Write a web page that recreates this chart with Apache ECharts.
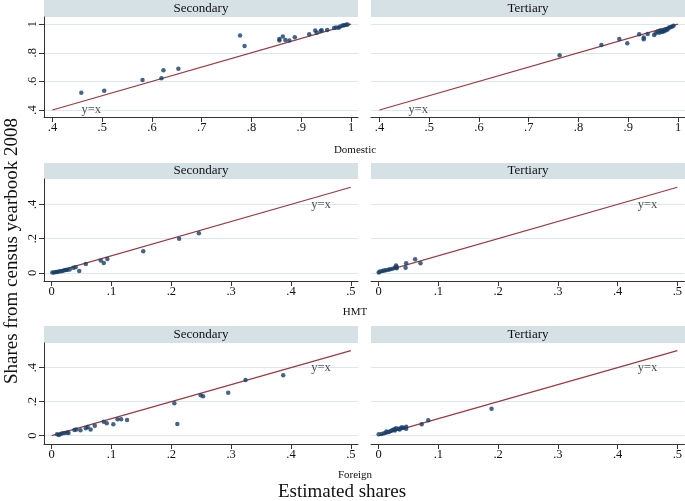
<!DOCTYPE html>
<html>
<head>
<meta charset="utf-8">
<script src="https://cdn.jsdelivr.net/npm/echarts@6/dist/echarts.min.js"></script>
<style>
html,body{margin:0;padding:0;background:#fff;}
#c{width:685px;height:501px;}
</style>
</head>
<body>
<div id="c"></div>
<script>
// ---- data ----
const rowLabels = ['Domestic', 'HMT', 'Foreign'];
const colLabels = ['Secondary', 'Tertiary'];

const domesticSecondary = [[0.458,0.521],[0.504,0.535],[0.581,0.61],[0.619,0.622],[0.623,0.678],[0.653,0.689],[0.777,0.92],[0.786,0.848],[0.856,0.896],[0.856,0.885],[0.863,0.913],[0.868,0.89],[0.876,0.885],[0.887,0.908],[0.916,0.929],[0.928,0.955],[0.931,0.94],[0.939,0.952],[0.941,0.958],[0.952,0.959],[0.966,0.973],[0.97,0.977],[0.975,0.975],[0.978,0.983],[0.983,0.99],[0.986,0.992],[0.99,0.995],[0.993,0.997]];
const domesticTertiary = [[0.762,0.782],[0.846,0.855],[0.882,0.897],[0.898,0.866],[0.922,0.929],[0.931,0.906],[0.931,0.895],[0.939,0.931],[0.952,0.924],[0.955,0.936],[0.959,0.948],[0.962,0.94],[0.964,0.955],[0.967,0.945],[0.969,0.952],[0.971,0.948],[0.973,0.959],[0.975,0.955],[0.977,0.964],[0.979,0.962],[0.982,0.976],[0.985,0.979],[0.988,0.983],[0.991,0.988]];
const hmtSecondary = [[0.001,0.002],[0.004,0.003],[0.007,0.005],[0.009,0.006],[0.012,0.008],[0.015,0.01],[0.018,0.012],[0.021,0.015],[0.024,0.017],[0.026,0.019],[0.03,0.02],[0.036,0.031],[0.04,0.033],[0.046,0.012],[0.057,0.052],[0.082,0.072],[0.087,0.058],[0.093,0.082],[0.153,0.127],[0.213,0.2],[0.246,0.231]];
const hmtTertiary = [[0.0,0.002],[0.002,0.008],[0.006,0.012],[0.009,0.014],[0.012,0.016],[0.016,0.018],[0.019,0.022],[0.023,0.025],[0.027,0.031],[0.029,0.043],[0.03,0.027],[0.03,0.035],[0.045,0.031],[0.046,0.057],[0.061,0.08],[0.07,0.057]];
const foreignSecondary = [[0.009,0.008],[0.012,0.004],[0.015,0.01],[0.018,0.014],[0.022,0.016],[0.026,0.018],[0.028,0.015],[0.038,0.034],[0.041,0.036],[0.048,0.032],[0.057,0.043],[0.06,0.051],[0.065,0.037],[0.072,0.059],[0.087,0.082],[0.092,0.073],[0.103,0.067],[0.11,0.096],[0.116,0.096],[0.126,0.092],[0.205,0.19],[0.21,0.069],[0.249,0.238],[0.253,0.232],[0.295,0.253],[0.324,0.328],[0.387,0.355]];
const foreignTertiary = [[0.0,0.008],[0.005,0.01],[0.009,0.014],[0.013,0.018],[0.013,0.024],[0.017,0.022],[0.02,0.028],[0.023,0.034],[0.026,0.038],[0.027,0.03],[0.029,0.043],[0.033,0.04],[0.035,0.036],[0.037,0.043],[0.039,0.049],[0.042,0.045],[0.046,0.053],[0.046,0.04],[0.072,0.067],[0.083,0.09],[0.189,0.159]];

const topXTicks = [0.4,0.5,0.6,0.7,0.8,0.9,1];
const topYTicks = [0.4,0.6,0.8,1];
const lowXTicks = [0,0.1,0.2,0.3,0.4,0.5];
const lowYTicks = [0,0.2,0.4];
const topDiagonal = [[0.4,0.4],[1,1]];
const lowDiagonal = [[0,0],[0.5,0.5]];
const topLabelPos = [0.478,0.4];
const lowLabelPos = [0.45,0.4];

// ---- layout / style ----
const serif = 'Liberation Serif';
const navy = '#163f66';
const maroon = '#983a40';
const stripColor = '#d6e1e6';
const gridColor = '#dde7eb';

const panels = [
  {data: domesticSecondary, row:0, col:0},
  {data: domesticTertiary, row:0, col:1},
  {data: hmtSecondary, row:1, col:0},
  {data: hmtTertiary, row:1, col:1},
  {data: foreignSecondary, row:2, col:0},
  {data: foreignTertiary, row:2, col:1}
];
const rowGeom = [
  {top:17, height:100, strip:0, stripH:17, xmin:0.383, xmax:1.014, ymin:0.351, ymax:1.05},
  {top:179, height:102, strip:163, stripH:16, xmin:-0.0129, xmax:0.512, ymin:-0.047, ymax:0.548},
  {top:343, height:101, strip:326, stripH:17, xmin:-0.0129, xmax:0.512, ymin:-0.049, ymax:0.545}
];
const colLeft = [44, 371];
const panelW = 314;
const rowLabelY = [150, 312, 475];

function fmt(v){
  if (Math.abs(v) < 1e-9) return '0';
  if (Math.abs(v-1) < 1e-9) return '1';
  return String(Math.round(v*10)/10).replace(/^0/, '');
}

const grids = [], xAxes = [], yAxes = [], series = [], graphics = [];
panels.forEach((p, i) => {
  const g = rowGeom[p.row];
  const isTop = p.row === 0;
  const xt = isTop ? topXTicks : lowXTicks;
  const yt = isTop ? topYTicks : lowYTicks;
  const diag = isTop ? topDiagonal : lowDiagonal;
  grids.push({left: colLeft[p.col], top: g.top, width: panelW, height: g.height});
  xAxes.push({
    type:'value', gridIndex:i, min:g.xmin, max:g.xmax,
    axisLine:{show:true, onZero:false, lineStyle:{color:'#333', width:1}},
    axisTick:{show:true, length:5, customValues: xt, lineStyle:{color:'#333'}},
    axisLabel:{show:true, customValues: xt, formatter: fmt, fontFamily: serif, fontSize:12.5, color:'#111', margin:4},
    splitLine:{show:false}
  });
  yAxes.push({
    type:'value', gridIndex:i, min:g.ymin, max:g.ymax,
    axisLine:{show: p.col===0, onZero:false, lineStyle:{color:'#333', width:1}},
    axisTick:{show: p.col===0, length:5, customValues: yt, lineStyle:{color:'#333'}},
    axisLabel:{show: p.col===0, customValues: yt, formatter: fmt, rotate:90, fontFamily: serif, fontSize:12.5, color:'#111', margin:5},
    splitLine:{show:false}
  });
  // gridlines (behind everything), carried by an invisible copy of the diagonal
  series.push({
    type:'line', xAxisIndex:i, yAxisIndex:i, data:diag, z:0,
    symbol:'none', lineStyle:{opacity:0, width:0}, silent:true,
    markLine:{
      silent:true, symbol:'none', animation:false, z:0,
      label:{show:false},
      lineStyle:{color:gridColor, type:'solid', width:1, opacity:1},
      data: yt.map(v => ({yAxis:v}))
    }
  });
  series.push({
    type:'line', xAxisIndex:i, yAxisIndex:i,
    data: diag,
    symbol:'none', lineStyle:{color:maroon, width:1.2}, z:2
  });
  series.push({
    type:'scatter', xAxisIndex:i, yAxisIndex:i, data:p.data,
    symbol:'circle', symbolSize:4.5, itemStyle:{color:navy}, z:3
  });
  series.push({
    type:'scatter', xAxisIndex:i, yAxisIndex:i,
    data:[isTop ? topLabelPos : lowLabelPos],
    symbolSize:0.01, itemStyle:{color:'transparent'},
    label:{show:true, position:'inside', formatter:'y=x', fontFamily:serif, fontSize:12.5, color:'#222'},
    z:4
  });
  graphics.push({
    type:'rect', shape:{x:colLeft[p.col], y:g.strip, width:panelW, height:g.stripH},
    style:{fill:stripColor}, silent:true
  });
  graphics.push({
    type:'text', x:colLeft[p.col]+panelW/2, y:g.strip+g.stripH/2,
    style:{text:colLabels[p.col], font:'13px "'+serif+'"', fill:'#111', align:'center', verticalAlign:'middle'}
  });
});
rowLabels.forEach((t, r) => {
  graphics.push({type:'text', x:355, y:rowLabelY[r],
    style:{text:t, font:'11px "'+serif+'"', fill:'#111', align:'center', verticalAlign:'middle'}});
});
graphics.push({type:'text', x:342, y:492,
  style:{text:'Estimated shares', font:'19px "'+serif+'"', fill:'#111', align:'center', verticalAlign:'middle'}});
graphics.push({type:'text', x:12, y:251, rotation:Math.PI/2,
  style:{text:'Shares from census yearbook 2008', font:'19px "'+serif+'"', fill:'#111', align:'center', verticalAlign:'middle'}});

const chart = echarts.init(document.getElementById('c'), null, {renderer:'canvas'});
chart.setOption({
  animation:false,
  backgroundColor:'#fff',
  grid: grids, xAxis: xAxes, yAxis: yAxes, series: series, graphic: graphics
});
</script>
</body>
</html>
